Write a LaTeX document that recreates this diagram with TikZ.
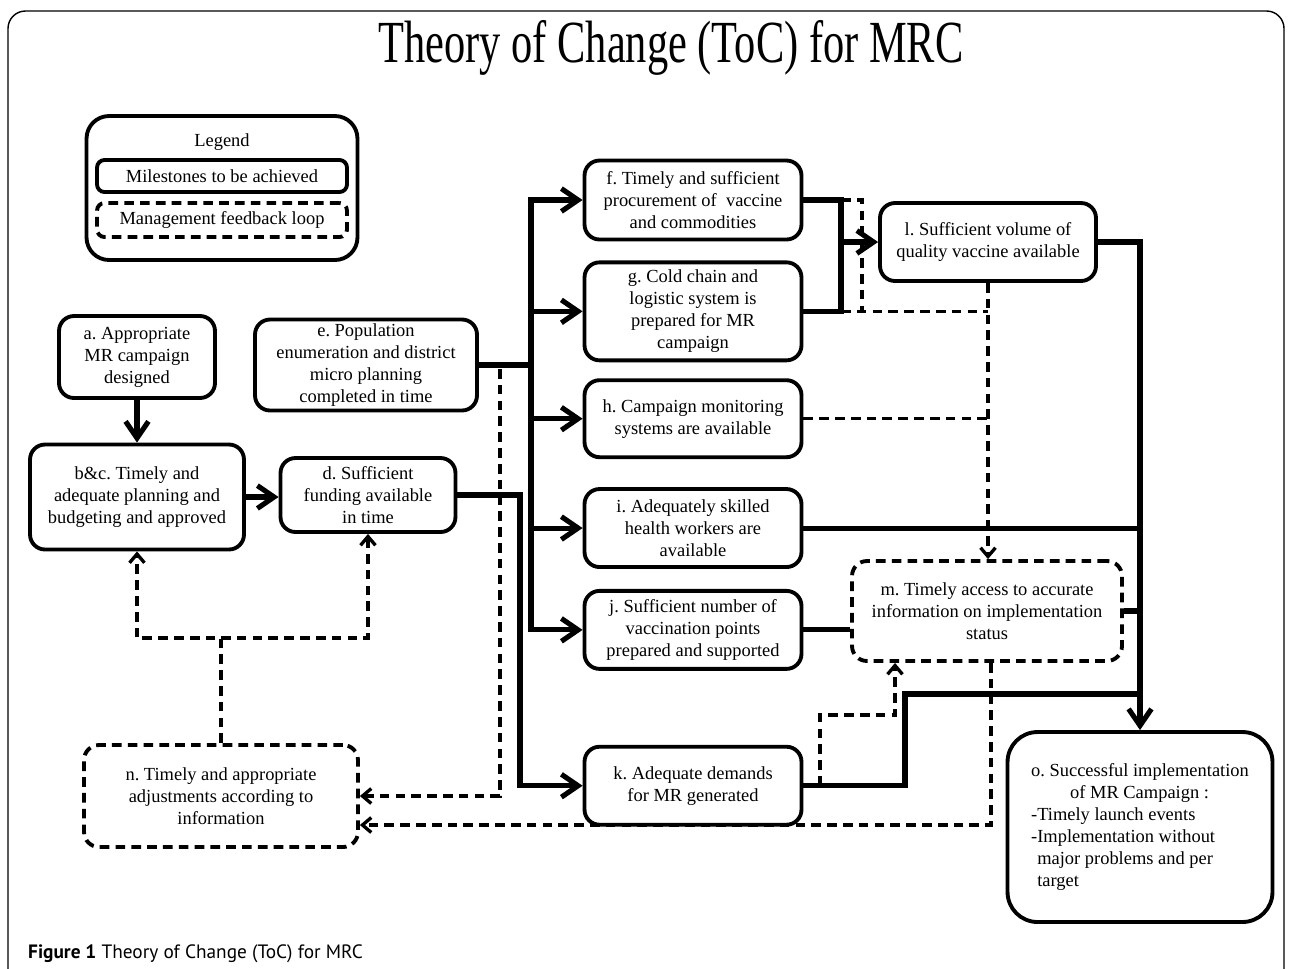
\documentclass[tikz,border=0pt]{standalone}
\usepackage{fontspec}
\setmainfont{Liberation Serif}
\newfontfamily\captionfont{PT Sans}
\usepackage{graphicx}
\usepackage{tikz}
\usetikzlibrary{arrows.meta,positioning,calc}

\newcommand{\boxfont}{\fontsize{10.5}{12.5}\selectfont}
\frenchspacing

\begin{document}
\begin{tikzpicture}[
    x=0.02cm, y=-0.02cm,
    milestone/.style={draw, rounded corners=0.3cm, line width=2.2pt, align=center, font=\boxfont, inner sep=2pt, minimum width=4.34cm, minimum height=1.56cm},
    feedback/.style={milestone, dash pattern=on 5.5pt off 3.5pt},
    link/.style={line width=2.9pt},
    flow/.style={link, -{Straight Barb[length=9.5pt,width=13pt]}},
    fbline/.style={line width=1.9pt, dash pattern=on 5.5pt off 3.5pt},
    fbarrow/.style={fbline, -{Straight Barb[length=5pt,width=8.5pt]}}
  ]
    \clip (0,0) rectangle (1290,968);
    \fill[white] (0,0) rectangle (1290,968);
    \draw[line width=0.8pt, rounded corners=0.35cm] (8,11) rectangle (1284,1010);

    % title and caption
    \node[anchor=base] (title) at (671,62) {\scalebox{0.71}[1]{\fontsize{34}{40}\selectfont Theory of Change (ToC) for MRC}};
    \node[anchor=base west, font=\captionfont\fontsize{11}{13}\selectfont] (caption) at (22,958) {\textbf{Figure 1} Theory of Change (ToC) for MRC};

    % legend
    \node[draw, rounded corners=0.45cm, line width=2.2pt, minimum width=5.42cm, minimum height=2.88cm] (legend) at (222,188) {};
    \node[font=\boxfont] (lgtitle) at (222,142) {Legend};
    \node[milestone, rounded corners=0.15cm, minimum width=5cm, minimum height=0.64cm] (lgms) at (222,176) {Milestones to be achieved};
    \node[feedback, rounded corners=0.15cm, minimum width=5cm, minimum height=0.68cm] (lgfb) at (222,220) {Management feedback loop};

    % milestones
    \node[milestone, minimum width=3.12cm, minimum height=1.64cm] (a) at (137,357) {a. Appropriate\\MR campaign\\designed};
    \node[milestone, minimum width=4.28cm, minimum height=2.1cm] (bc) at (137,497) {b\&c. Timely and\\adequate planning and\\budgeting and approved};
    \node[milestone, minimum width=3.5cm, minimum height=1.48cm] (d) at (368,495) {d. Sufficient\\funding available\\in time};
    \node[milestone, minimum width=4.44cm, minimum height=1.82cm] (e) at (366,365) {e. Population\\enumeration and district\\micro planning\\completed in time};
    \node[milestone, minimum height=1.58cm] (f) at (693,200) {f. Timely and sufficient\\procurement of~ vaccine\\and commodities};
    \node[milestone, minimum height=1.96cm, below=0.38cm of f] (g) {g. Cold chain and\\logistic system is\\prepared for MR\\campaign};
    \node[milestone, minimum height=1.54cm, below=0.32cm of g] (h) {h. Campaign monitoring\\systems are available};
    \node[milestone, below=0.56cm of h] (i) {i. Adequately skilled\\health workers are\\available};
    \node[milestone, below=0.4cm of i] (j) {j. Sufficient number of\\vaccination points\\prepared and supported};
    \node[milestone, below=1.48cm of j] (k) {k. Adequate demands\\for MR generated};
    \node[milestone, minimum width=4.32cm] (l) at (988,242) {l. Sufficient volume of\\quality vaccine available};
    \node[feedback, minimum width=5.4cm, minimum height=2cm] (m) at (987,611) {m. Timely access to accurate\\information on implementation\\status};
    \node[feedback, minimum width=5.48cm, minimum height=2.04cm] (n) at (221,796) {n. Timely and appropriate\\adjustments according to\\information};
    \node[milestone, rounded corners=0.6cm, minimum width=5.3cm, minimum height=3.8cm, align=left] (o) at (1140,827) {o. Successful implementation\\\hspace*{0.78cm}of MR Campaign :\\-Timely launch events\\-Implementation without\\\hphantom{-}major problems and per\\\hphantom{-}target};

    % bend points
    \coordinate (etrunk) at (531,0);
    \coordinate (dtrunk) at (520,0);
    \coordinate (efb) at (500,369);
    \coordinate (fgbar) at (841,0);
    \coordinate (fgdash) at (862,0);
    \coordinate (kstep) at (905,694);
    \coordinate (kfb) at (820,715);
    \coordinate (kfbup) at (895,0);
    \coordinate (mfb) at (991,825);
    \coordinate (nsplit) at (0,638);

    % feedback loop
    \draw[fbline] (f.east -| fgbar) -- (f.east -| fgdash) -- (g.east -| fgdash);
    \draw[fbline] (g.east -| fgbar) -- (g.east -| l.south);
    \draw[fbline] (h.east) -- (h.east -| l.south);
    \draw[fbarrow] (l.south) -- (l.south |- m.north);
    \draw[fbarrow] (k.east -| kfb) -- (kfb) -| (kfbup |- m.south);
    \draw[fbarrow] (m.south -| mfb) -- (mfb) -- (mfb -| n.east);
    \draw[fbarrow] (efb) -- (efb |- n.east) -- (n.east);
    \draw[fbarrow] (n.north) -- (n.north |- nsplit) -| (bc.south);
    \draw[fbarrow] (n.north |- nsplit) -| (d.south);

    % milestones flow
    \draw[flow] (a.south) -- (bc.north);
    \draw[flow] (bc.east) -- (bc.east -| d.west);
    \draw[flow] (d.east) -- (d.east -| dtrunk) |- (k.west);
    \draw[flow] (e.east) -- (e.east -| etrunk) |- (f.west);
    \draw[flow] (e.east -| etrunk) |- (j.west);
    \foreach \t in {g,h,i}
      \draw[flow] (\t.west -| etrunk) -- (\t.west);
    \draw[link] (f.east) -- (f.east -| fgbar) -- (g.east -| fgbar) -- (g.east);
    \draw[flow] (l.west -| fgbar) -- (l.west);
    \draw[flow] (l.east) -| (o.north);
    \draw[link] ($(h.east)+(0,18)$) -- ($(h.east)+(0,18)$ -| o.north);
    \draw[link] (i.east) -- (i.east -| o.north);
    \draw[link] (j.east) -- (j.east -| m.west);
    \draw[link] (m.east) -- (m.east -| o.north);
    \draw[link] (k.east) -| (kstep) -- (kstep -| o.north);
  \end{tikzpicture}
\end{document}
